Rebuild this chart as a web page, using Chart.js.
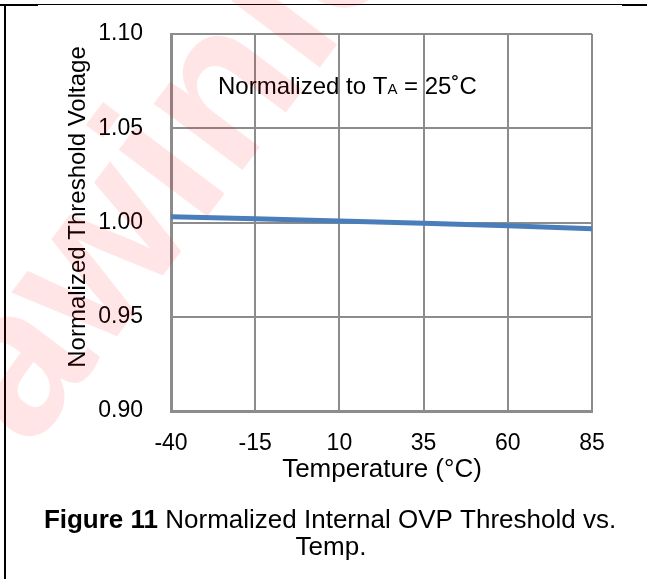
<!DOCTYPE html>
<html>
<head>
<meta charset="utf-8">
<script src="https://cdn.jsdelivr.net/npm/chart.js@4.4.1/dist/chart.umd.min.js"></script>
<style>
body{margin:0;background:#fff;}
#box{width:647px;height:579px;position:relative;}
</style>
</head>
<body>
<div id="box"><canvas id="myChart" width="647" height="579"></canvas></div>
<script>
// data
const temps = [-40, -15, 10, 35, 60, 85];
const threshold = [1.0030, 1.0020, 1.0008, 0.9996, 0.9983, 0.9967];
const yTicks = [0.90, 0.95, 1.00, 1.05, 1.10];
const xTicks = [-40, -15, 10, 35, 60, 85];

const font = "'Liberation Sans', Arial, sans-serif";
const gridGray = '#8c8c8c';

// frame, labels, caption and watermark
const extras = {
  id: 'extras',
  afterDraw(chart){
    const ctx = chart.ctx;
    ctx.save();

    // page frame lines
    ctx.strokeStyle = '#000';
    ctx.lineWidth = 1.2;
    ctx.beginPath(); ctx.moveTo(4, 4.5); ctx.lineTo(647, 4.5); ctx.stroke();
    ctx.lineWidth = 2;
    ctx.beginPath(); ctx.moveTo(5, 4); ctx.lineTo(5, 579); ctx.stroke();
    ctx.beginPath(); ctx.moveTo(0, 5); ctx.lineTo(38, 5); ctx.stroke();
    ctx.beginPath(); ctx.moveTo(622, 5); ctx.lineTo(647, 5); ctx.stroke();

    ctx.fillStyle = '#000';
    ctx.textBaseline = 'alphabetic';

    // y axis title
    ctx.save();
    ctx.translate(85, 207);
    ctx.rotate(-Math.PI/2);
    ctx.font = '24px ' + font;
    ctx.textAlign = 'center';
    ctx.fillText('Normalized Threshold Voltage', 0, 0);
    ctx.restore();

    // x axis title
    ctx.font = '26px ' + font;
    ctx.textAlign = 'center';
    ctx.fillText('Temperature (°C)', 382, 477);

    // note in the plot
    ctx.textAlign = 'left';
    let x = 218;
    ctx.font = '24px ' + font;
    ctx.fillText('Normalized to T', x, 94);
    x += ctx.measureText('Normalized to T').width;
    ctx.font = '15px ' + font;
    ctx.fillText('A', x, 94);
    x += ctx.measureText('A').width;
    ctx.font = '24px ' + font;
    ctx.fillText(' = 25˚C', x, 94);

    // caption
    const bold = 'Figure 11';
    const rest = ' Normalized Internal OVP Threshold vs.';
    ctx.font = 'bold 26px ' + font;
    const wb = ctx.measureText(bold).width;
    ctx.font = '26px ' + font;
    const wr = ctx.measureText(rest).width;
    let cx = 330 - (wb + wr)/2;
    ctx.font = 'bold 26px ' + font;
    ctx.fillText(bold, cx, 528);
    ctx.font = '26px ' + font;
    ctx.fillText(rest, cx + wb, 528);
    ctx.textAlign = 'center';
    ctx.fillText('Temp.', 331, 555);

    // watermark
    ctx.save();
    ctx.translate(30, 452);
    ctx.rotate(-53 * Math.PI/180);
    ctx.font = 'bold 210px ' + font;
    ctx.textAlign = 'left';
    ctx.fillStyle = 'rgba(255,0,0,0.1)';
    ctx.fillText('awinic', 0, 0);
    ctx.restore();

    ctx.restore();
  }
};

function noPad(s){
  s.paddingTop = 0;
  s.paddingBottom = 0;
  s.paddingLeft = 0;
  s.paddingRight = 0;
}

const ctx = document.getElementById('myChart');
new Chart(ctx, {
  type: 'scatter',
  data: {
    datasets: [{
      data: temps.map((t, i) => ({x: t, y: threshold[i]})),
      showLine: true,
      borderColor: '#4a7ebb',
      borderWidth: 5,
      pointRadius: 0,
      tension: 0
    }]
  },
  options: {
    responsive: false,
    animation: false,
    layout: { padding: { left: 0, top: 34, right: 55, bottom: 0 } },
    plugins: { legend: { display: false }, tooltip: { enabled: false } },
    scales: {
      x: {
        type: 'linear',
        min: -40,
        max: 85,
        afterFit(s){ s.height = 168; noPad(s); },
        afterBuildTicks(s){ s.ticks = xTicks.map(v => ({value: v})); },
        ticks: { color: '#000', padding: 19, font: { family: font, size: 23 }, maxRotation: 0 },
        grid: { color: gridGray, lineWidth: 2, drawTicks: false },
        border: { color: gridGray, width: 3 }
      },
      y: {
        min: 0.9,
        max: 1.1,
        afterFit(s){ s.width = 171; noPad(s); },
        afterBuildTicks(s){ s.ticks = yTicks.map(v => ({value: v})); },
        ticks: { color: '#000', padding: 28, font: { family: font, size: 23 }, callback: v => v.toFixed(2) },
        grid: { color: gridGray, lineWidth: 2, drawTicks: false },
        border: { color: gridGray, width: 3 }
      }
    }
  },
  plugins: [extras]
});
</script>
</body>
</html>
